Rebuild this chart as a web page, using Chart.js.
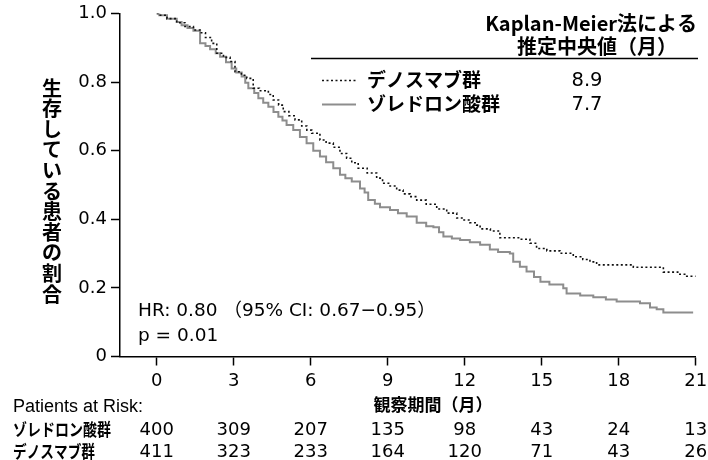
<!DOCTYPE html>
<html><head><meta charset="utf-8">
<script src="https://cdn.jsdelivr.net/npm/chart.js@4.4.1/dist/chart.umd.min.js"></script>
<style>html,body{margin:0;padding:0;background:#fff;}canvas{display:block;}</style>
</head><body>
<canvas id="c" width="708" height="460" style="width:708px;height:460px"></canvas>
<script>
// ---- data ----
const seriesNames = ['デノスマブ群', 'ゾレドロン酸群'];
const medianMonths = [8.9, 7.7];
const xTicks = [0, 3, 6, 9, 12, 15, 18, 21];
const yTicks = [0, 0.2, 0.4, 0.6, 0.8, 1.0];
const denoTime = [0, 0.1, 0.4, 0.78, 1.1, 1.43, 1.69, 1.9, 2.14, 2.34, 2.6, 2.86, 3.05, 3.3, 3.51, 3.76, 4.0, 4.35, 4.54, 4.75, 4.93, 5.15, 5.39, 5.65, 5.85, 6.04, 6.36, 6.6, 6.88, 7.14, 7.4, 7.6, 7.85, 8.2, 8.57, 8.8, 9.09, 9.35, 9.6, 9.87, 10.13, 10.5, 10.91, 11.3, 11.69, 11.94, 12.2, 12.47, 12.6, 13.0, 13.37, 14.15, 14.54, 14.8, 15.2, 15.71, 16.23, 16.6, 16.88, 17.14, 18.57, 19.74, 20.3, 20.65, 21.0];
const denoSurv = [1.0, 0.995, 0.985, 0.973, 0.962, 0.952, 0.944, 0.93, 0.913, 0.884, 0.872, 0.86, 0.83, 0.82, 0.811, 0.782, 0.775, 0.764, 0.748, 0.733, 0.714, 0.702, 0.69, 0.672, 0.66, 0.651, 0.631, 0.622, 0.61, 0.592, 0.578, 0.565, 0.549, 0.535, 0.52, 0.505, 0.497, 0.485, 0.474, 0.466, 0.456, 0.444, 0.43, 0.418, 0.404, 0.398, 0.39, 0.383, 0.372, 0.366, 0.346, 0.342, 0.33, 0.315, 0.308, 0.301, 0.291, 0.283, 0.276, 0.267, 0.26, 0.246, 0.24, 0.234, 0.234];
const zolTime = [0, 0.1, 0.4, 0.78, 0.97, 1.2, 1.43, 1.69, 1.9, 2.08, 2.3, 2.47, 2.7, 2.92, 3.1, 3.31, 3.45, 3.57, 3.8, 3.96, 4.15, 4.35, 4.55, 4.74, 4.9, 5.06, 5.32, 5.58, 5.84, 6.1, 6.36, 6.6, 6.88, 7.14, 7.35, 7.6, 7.92, 8.1, 8.24, 8.5, 8.7, 9.09, 9.4, 9.74, 10.13, 10.5, 10.78, 11.0, 11.17, 11.5, 11.82, 12.2, 12.6, 12.98, 13.3, 13.76, 13.89, 14.15, 14.41, 14.7, 14.95, 15.3, 15.84, 15.97, 16.5, 17.01, 17.5, 17.92, 18.83, 19.22, 19.48, 19.74, 20.9];
const zolSurv = [1.0, 0.995, 0.985, 0.975, 0.966, 0.958, 0.95, 0.913, 0.905, 0.896, 0.884, 0.874, 0.858, 0.84, 0.828, 0.816, 0.798, 0.782, 0.768, 0.753, 0.74, 0.728, 0.713, 0.699, 0.688, 0.675, 0.66, 0.64, 0.622, 0.6, 0.583, 0.566, 0.549, 0.53, 0.52, 0.51, 0.49, 0.478, 0.456, 0.445, 0.435, 0.427, 0.418, 0.408, 0.39, 0.38, 0.377, 0.362, 0.35, 0.344, 0.34, 0.333, 0.326, 0.312, 0.305, 0.3, 0.276, 0.262, 0.248, 0.232, 0.218, 0.21, 0.199, 0.184, 0.178, 0.173, 0.166, 0.16, 0.155, 0.143, 0.138, 0.128, 0.128];
const atRiskZol = [400, 309, 207, 135, 98, 43, 24, 13];
const atRiskDeno = [411, 323, 233, 164, 120, 71, 43, 26];
const yTitle = '生存している患者の割合';
const xTitle = '観察期間（月）';
const legendTitle1 = 'Kaplan-Meier法による';
const legendTitle2 = '推定中央値（月）';
const hrText = 'HR: 0.80 （95% CI: 0.67−0.95）';
const pText = 'p = 0.01';
const riskTitle = 'Patients at Risk:';

// ---- drawing ----
const NUM = '"DejaVu Sans", sans-serif';
const LAT = '"Liberation Sans", Arial, sans-serif';
const JP = '"Noto Sans CJK JP", sans-serif';
const DOT_COLOR = '#111';
const GRAY = '#8d8d8d';

const extras = {
  id: 'extras',
  afterDraw(chart) {
    const ctx = chart.ctx;
    const xs = chart.scales.x;
    ctx.save();
    ctx.fillStyle = '#000';
    ctx.textBaseline = 'middle';
    // y title, stacked characters
    ctx.font = 'bold 20px ' + JP;
    ctx.textAlign = 'center';
    [...yTitle].forEach((ch, i) => ctx.fillText(ch, 52, 88 + i * 20.6));
    // legend header
    ctx.font = 'bold 20px ' + JP;
    ctx.textAlign = 'right';
    ctx.fillText(legendTitle1, 697, 23);
    ctx.textAlign = 'center';
    ctx.fillText(legendTitle2, 597, 46);
    ctx.strokeStyle = '#000';
    ctx.lineWidth = 1.5;
    ctx.beginPath(); ctx.moveTo(311, 58.5); ctx.lineTo(698, 58.5); ctx.stroke();
    // legend rows
    const rows = [80, 104];
    chart.data.datasets.forEach((ds, i) => {
      ctx.save();
      ctx.strokeStyle = ds.borderColor;
      ctx.lineWidth = ds.borderWidth;
      ctx.setLineDash(ds.borderDash || []);
      ctx.beginPath(); ctx.moveTo(322, rows[i] + 0.5); ctx.lineTo(356, rows[i] + 0.5); ctx.stroke();
      ctx.restore();
      ctx.font = 'bold 19px ' + JP;
      ctx.textAlign = 'left';
      ctx.fillText(ds.label, 367, rows[i]);
      ctx.font = '19.5px ' + NUM;
      ctx.textAlign = 'center';
      ctx.fillText(medianMonths[i].toFixed(1), 587, rows[i] + 1);
    });
    // HR / p
    ctx.textAlign = 'left';
    ctx.font = '18.5px ' + NUM + ', ' + JP;
    ctx.fillText(hrText, 138, 311);
    ctx.fillText(pText, 138, 336);
    // table
    ctx.font = '18px ' + LAT;
    ctx.fillText(riskTitle, 13, 407);
    ctx.font = 'bold 17px ' + JP;
    ctx.textAlign = 'center';
    ctx.fillText(xTitle, 433, 405);
    ctx.textAlign = 'left';
    ctx.fillText(seriesNames[1], 13, 430, 98);
    ctx.fillText(seriesNames[0], 13, 452, 82);
    ctx.font = '18px ' + NUM;
    ctx.textAlign = 'center';
    xTicks.forEach((t, i) => {
      const px = xs.getPixelForValue(t);
      ctx.fillText(String(atRiskZol[i]), px, 430);
      ctx.fillText(String(atRiskDeno[i]), px, 452);
    });
    ctx.restore();
  }
};

const toPts = (ts, ss) => ts.map((t, i) => ({ x: t, y: ss[i] }));

new Chart(document.getElementById('c'), {
  type: 'line',
  data: {
    datasets: [
      { label: seriesNames[0], data: toPts(denoTime, denoSurv), borderColor: DOT_COLOR, borderWidth: 1.6, borderDash: [2, 2.5], stepped: true, pointRadius: 0, fill: false },
      { label: seriesNames[1], data: toPts(zolTime, zolSurv), borderColor: GRAY, borderWidth: 2, stepped: true, pointRadius: 0, fill: false }
    ]
  },
  options: {
    responsive: false,
    animation: false,
    devicePixelRatio: 1,
    layout: { padding: { top: 13.5, right: 12.3, left: 0, bottom: 0 } },
    plugins: { legend: { display: false }, tooltip: { enabled: false } },
    scales: {
      x: {
        type: 'linear', min: -1.43, max: 21,
        afterBuildTicks: s => { s.ticks = xTicks.map(v => ({ value: v })); },
        afterFit: s => { s.height = 103.5; s.paddingLeft = 0; s.paddingRight = 0; },
        grid: { drawOnChartArea: false, drawTicks: true, tickLength: 9, color: '#000', tickWidth: 1.5 },
        border: { color: '#000', width: 1.5 },
        ticks: { color: '#000', font: { family: NUM, size: 18 }, padding: 5, maxRotation: 0, autoSkip: false }
      },
      y: {
        min: 0, max: 1,
        afterBuildTicks: s => { s.ticks = yTicks.map(v => ({ value: v })); },
        afterFit: s => { s.width = 120; s.paddingTop = 0; s.paddingBottom = 0; },
        grid: { drawOnChartArea: false, drawTicks: true, tickLength: 9, color: '#000', tickWidth: 1.5 },
        border: { color: '#000', width: 1.5 },
        ticks: { color: '#000', font: { family: NUM, size: 18 }, padding: 4, autoSkip: false,
          callback: v => v === 0 ? '0' : v.toFixed(1) }
      }
    }
  },
  plugins: [extras]
});
</script>
</body></html>
